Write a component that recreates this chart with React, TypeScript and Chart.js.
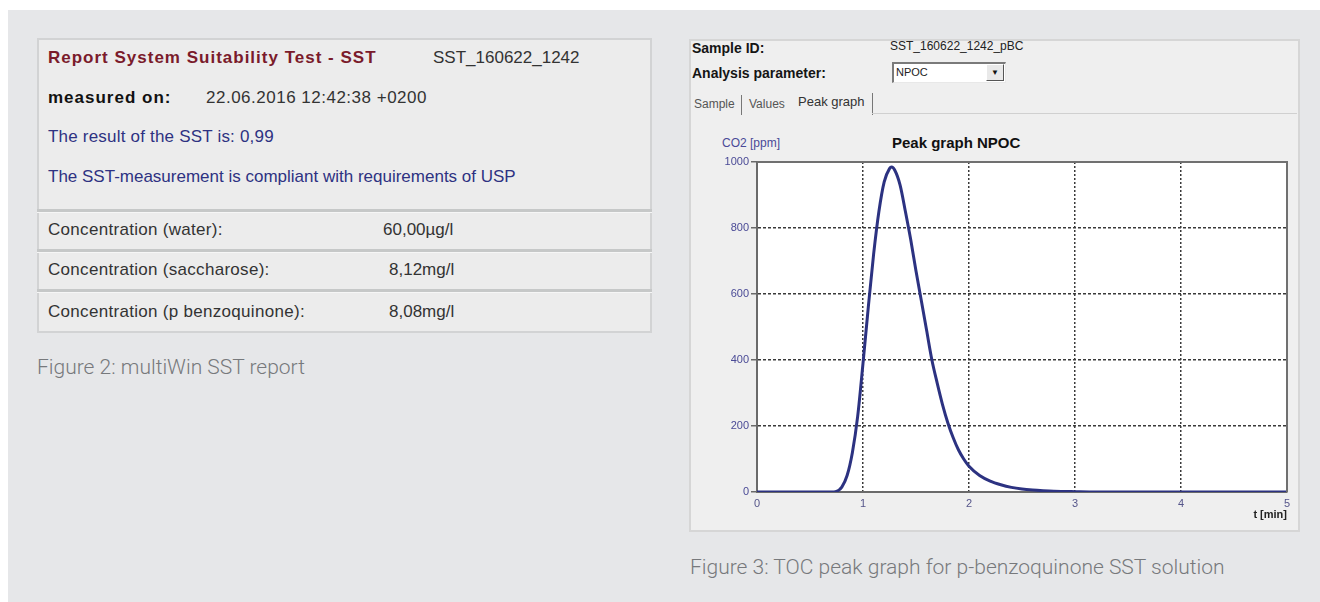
import React, { useEffect, useRef } from "react";
import { Chart, registerables } from "chart.js";

Chart.register(...registerables);

// ---- Data ----
const timeMin = [
  0, 0.7, 0.75, 0.8, 0.85, 0.9, 0.95, 1.0, 1.05, 1.1, 1.15, 1.2, 1.25, 1.27, 1.3,
  1.35, 1.4, 1.45, 1.5, 1.55, 1.6, 1.65, 1.7, 1.75, 1.8, 1.85, 1.9, 1.95, 2.0,
  2.1, 2.2, 2.3, 2.4, 2.5, 2.6, 2.7, 2.8, 3.0, 3.2, 5.0,
];
const co2Ppm = [
  0, 0, 2, 15, 50, 120, 230, 390, 560, 720, 850, 940, 980, 985, 975,
  930, 850, 765, 670, 580, 490, 400, 330, 265, 210, 165, 128, 100, 78,
  50, 33, 22, 14, 9, 6, 4, 2.5, 1, 0, 0,
];
const xAxisRange = [0, 5];
const yAxisRange = [0, 1000];
const xTickStep = 1;
const yTickStep = 200;
const xAxisTitle = "t [min]";
const yAxisTitle = "CO2 [ppm]";
const chartTitle = "Peak graph NPOC";

// ---- Report texts ----
const reportTitle = "Report System Suitability Test - SST";
const reportId = "SST_160622_1242";
const measuredLabel = "measured on:";
const measuredValue = "22.06.2016 12:42:38 +0200";
const resultLine = "The result of the SST is: 0,99";
const complianceLine = "The SST-measurement is compliant with requirements of USP";
const concLabels = [
  "Concentration (water):",
  "Concentration (saccharose):",
  "Concentration (p benzoquinone):",
];
const concValues = ["60,00µg/l", "8,12mg/l", "8,08mg/l"];
const caption2 = "Figure 2: multiWin SST report";
const caption3 = "Figure 3: TOC peak graph for p-benzoquinone SST solution";

const UI = '"Liberation Sans", Arial, sans-serif';
const CAP = 'Roboto, "Open Sans", sans-serif';

function T(props: {
  x: number;
  y: number;
  children: React.ReactNode;
  style?: React.CSSProperties;
}) {
  return (
    <div
      style={{
        position: "absolute",
        left: props.x,
        top: props.y - 12,
        height: 24,
        lineHeight: "24px",
        whiteSpace: "nowrap",
        fontFamily: UI,
        fontSize: 17,
        color: "#333",
        ...props.style,
      }}
    >
      {props.children}
    </div>
  );
}

const BOLD: React.CSSProperties = { fontWeight: "bold", letterSpacing: "1px" };

const plotFrame = {
  id: "plotFrame",
  beforeDraw(chart: any) {
    const { ctx, chartArea } = chart;
    const { left, top, right, bottom } = chartArea;
    ctx.save();
    ctx.fillStyle = "#ffffff";
    ctx.fillRect(left, top, right - left, bottom - top);
    ctx.restore();
  },
  afterDraw(chart: any) {
    const { ctx, chartArea } = chart;
    const { left, top, right, bottom } = chartArea;
    ctx.save();
    ctx.strokeStyle = "#707070";
    ctx.lineWidth = 2;
    ctx.beginPath();
    ctx.moveTo(left, top);
    ctx.lineTo(right, top);
    ctx.lineTo(right, bottom);
    ctx.stroke();
    ctx.restore();
  },
};

function PeakChart() {
  const ref = useRef<HTMLCanvasElement | null>(null);
  useEffect(() => {
    if (!ref.current) return;
    const points = timeMin.map((t, i) => ({ x: t, y: co2Ppm[i] }));
    const chart = new Chart(ref.current, {
      type: "line",
      data: {
        datasets: [
          {
            label: "NPOC",
            data: points,
            borderColor: "#2c3281",
            borderWidth: 3,
            pointRadius: 0,
            cubicInterpolationMode: "monotone",
            fill: false,
          },
        ],
      },
      options: {
        animation: false,
        responsive: false,
        devicePixelRatio: 1,
        layout: { padding: { left: 0, top: 12, right: 13, bottom: 0 } },
        plugins: {
          legend: { display: false },
          tooltip: { enabled: false },
          title: { display: false },
        },
        scales: {
          x: {
            type: "linear",
            min: xAxisRange[0],
            max: xAxisRange[1],
            afterFit: (s: any) => {
              s.height = 38;
            },
            ticks: {
              stepSize: xTickStep,
              padding: 5,
              color: "#55558a",
              font: { family: UI, size: 11 },
              maxRotation: 0,
              callback: (v: any) => String(v),
            },
            grid: {
              drawTicks: false,
              lineWidth: 1.5,
              color: (c: any) =>
                c.tick && (c.tick.value === xAxisRange[0] || c.tick.value === xAxisRange[1])
                  ? "rgba(0,0,0,0)"
                  : "#3a3a3a",
            },
            border: { display: true, color: "#6a6a6a", width: 2, dash: [2, 2] },
            title: {
              display: true,
              text: xAxisTitle,
              align: "end",
              color: "#222",
              font: { family: UI, size: 11, weight: "bold" },
              padding: { top: 0, bottom: 8 },
            },
          },
          y: {
            type: "linear",
            min: yAxisRange[0],
            max: yAxisRange[1],
            afterFit: (s: any) => {
              s.width = 57;
            },
            ticks: {
              stepSize: yTickStep,
              padding: 2,
              color: "#4a4a96",
              font: { family: UI, size: 11 },
              callback: (v: any) => String(v),
            },
            grid: {
              drawTicks: true,
              tickLength: 6,
              tickColor: "#6a6a6a",
              tickWidth: 1.5,
              lineWidth: 1.5,
              color: (c: any) =>
                c.tick && (c.tick.value === yAxisRange[0] || c.tick.value === yAxisRange[1])
                  ? "rgba(0,0,0,0)"
                  : "#3a3a3a",
            },
            border: { display: true, color: "#6a6a6a", width: 2, dash: [3, 2] },
          },
        },
      },
      plugins: [plotFrame],
    } as any);
    return () => chart.destroy();
  }, []);
  return (
    <canvas
      ref={ref}
      width={600}
      height={380}
      style={{ position: "absolute", left: 700, top: 150, width: 600, height: 380 }}
    />
  );
}

export default function App() {
  const rowCenters = [230, 270, 312];
  return (
    <div
      style={{
        position: "absolute",
        left: 0,
        top: 0,
        width: 1320,
        height: 602,
        background: "#ffffff",
        overflow: "hidden",
      }}
    >
      {/* page grey */}
      <div
        style={{
          position: "absolute",
          left: 8,
          top: 10,
          width: 1312,
          height: 592,
          background: "#e6e7e9",
        }}
      />

      {/* ---------- Left report box ---------- */}
      <div
        style={{
          position: "absolute",
          left: 37,
          top: 38,
          width: 615,
          height: 295,
          boxSizing: "border-box",
          border: "2px solid #d2d3d4",
          background: "#ececec",
        }}
      />
      {[209, 249, 289].map((y) => (
        <div
          key={y}
          style={{
            position: "absolute",
            left: 37,
            top: y,
            width: 615,
            height: 3,
            background: "#c6c8c8",
            borderBottom: "1px solid #f6f6f6",
          }}
        />
      ))}
      <T x={48} y={58} style={{ ...BOLD, color: "#7a1b2b" }}>
        {reportTitle}
      </T>
      <T x={433} y={58}>{reportId}</T>
      <T x={48} y={98} style={{ ...BOLD, color: "#111" }}>
        {measuredLabel}
      </T>
      <T x={206} y={98} style={{ letterSpacing: "0.5px" }}>{measuredValue}</T>
      <T x={48} y={137} style={{ color: "#2e3282", fontSize: 17, letterSpacing: "0.2px" }}>
        {resultLine}
      </T>
      <T x={48} y={177} style={{ color: "#2e3282", fontSize: 17 }}>
        {complianceLine}
      </T>
      {concLabels.map((l, i) => (
        <React.Fragment key={l}>
          <T x={48} y={rowCenters[i]} style={{ letterSpacing: "0.3px" }}>{l}</T>
          <T x={i === 0 ? 383 : 389} y={rowCenters[i]}>
            {concValues[i]}
          </T>
        </React.Fragment>
      ))}
      <T x={37} y={367} style={{ fontFamily: CAP, fontWeight: 300, fontSize: 21, color: "#77797c" }}>
        {caption2}
      </T>

      {/* ---------- Right software panel ---------- */}
      <div
        style={{
          position: "absolute",
          left: 689,
          top: 39,
          width: 611,
          height: 493,
          boxSizing: "border-box",
          border: "2px solid #d6d6d6",
          background: "#efefef",
        }}
      />
      <T x={692} y={48} style={{ fontSize: 14, fontWeight: "bold", color: "#151515" }}>
        Sample ID:
      </T>
      <T x={692} y={73} style={{ fontSize: 14, fontWeight: "bold", color: "#151515" }}>
        Analysis parameter:
      </T>
      <T x={890} y={46} style={{ fontSize: 12, color: "#222" }}>
        SST_160622_1242_pBC
      </T>
      {/* dropdown */}
      <div
        style={{
          position: "absolute",
          left: 892,
          top: 62,
          width: 114,
          height: 21,
          boxSizing: "border-box",
          background: "#ffffff",
          borderTop: "2px solid #7a7a7a",
          borderLeft: "2px solid #7a7a7a",
          borderRight: "1px solid #e8e8e8",
          borderBottom: "1px solid #e8e8e8",
        }}
      />
      <T x={896} y={72} style={{ fontSize: 11, color: "#222" }}>
        NPOC
      </T>
      <div
        style={{
          position: "absolute",
          left: 986,
          top: 64,
          width: 18,
          height: 17,
          boxSizing: "border-box",
          background: "#e9e9e9",
          borderRight: "1px solid #555",
          borderBottom: "1px solid #555",
          borderTop: "1px solid #fff",
          borderLeft: "1px solid #fff",
          fontSize: 8,
          lineHeight: "15px",
          textAlign: "center",
          color: "#111",
          fontFamily: UI,
        }}
      >
        ▼
      </div>
      {/* tabs */}
      <T x={694} y={104} style={{ fontSize: 12, color: "#555" }}>
        Sample
      </T>
      <div style={{ position: "absolute", left: 741, top: 95, width: 1, height: 20, background: "#777" }} />
      <T x={749} y={104} style={{ fontSize: 12, color: "#555" }}>
        Values
      </T>
      <T x={798} y={102} style={{ fontSize: 13, color: "#333" }}>
        Peak graph
      </T>
      <div style={{ position: "absolute", left: 872, top: 93, width: 1, height: 22, background: "#777" }} />
      <div style={{ position: "absolute", left: 872, top: 113, width: 425, height: 1, background: "#d0d0d0" }} />

      <T x={722} y={143} style={{ fontSize: 12, color: "#4a4a98" }}>
        {yAxisTitle}
      </T>
      <T x={892} y={143} style={{ fontSize: 15, fontWeight: "bold", color: "#111" }}>
        {chartTitle}
      </T>

      <PeakChart />

      <T x={690} y={567} style={{ fontFamily: CAP, fontWeight: 300, fontSize: 21, color: "#77797c" }}>
        {caption3}
      </T>
    </div>
  );
}
